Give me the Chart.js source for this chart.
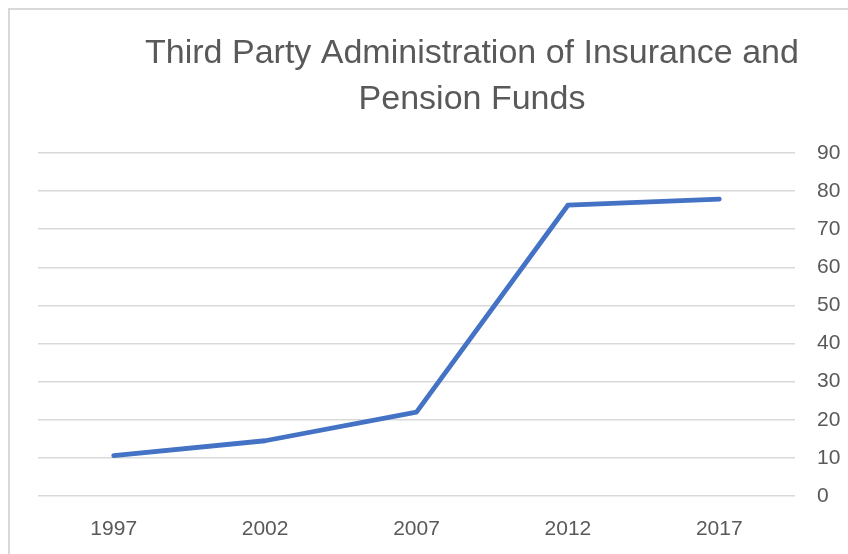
<!DOCTYPE html>
<html>
<head>
<meta charset="utf-8">
<script src="https://cdn.jsdelivr.net/npm/chart.js@4/dist/chart.umd.min.js"></script>
<style>
  html, body { margin: 0; padding: 0; background: #ffffff; }
  #chart { display: block; }
</style>
</head>
<body>
<canvas id="chart" width="848" height="554"></canvas>
<script>
// Share of insurance and pension funds handled by third-party administrators
const years = ['1997', '2002', '2007', '2012', '2017'];
const shareValues = [10.6, 14.5, 22.0, 76.3, 77.9];
const titleLines = ['Third Party Administration of Insurance and', 'Pension Funds'];

const FONT = "'Liberation Sans', Arial, sans-serif";
const TEXT_GRAY = '#595959';
const GRID_GRAY = '#d9d9d9';

// Light frame around the chart object, open at the right and bottom edges
const framePlugin = {
  id: 'frame',
  beforeDraw(chart) {
    const ctx = chart.ctx;
    ctx.save();
    ctx.strokeStyle = '#d9d9d9';
    ctx.lineWidth = 2;
    ctx.beginPath();
    ctx.moveTo(9, chart.height);
    ctx.lineTo(9, 9);
    ctx.lineTo(chart.width, 9);
    ctx.stroke();
    ctx.restore();
  }
};

// Centre the title over the plot region plus the value axis
const titleShift = {
  id: 'titleShift',
  afterLayout(chart) {
    const t = chart.titleBlock;
    if (t) {
      t.left += 29;
      t.right += 29;
    }
  }
};

new Chart(document.getElementById('chart'), {
  type: 'line',
  data: {
    labels: years,
    datasets: [{
      data: shareValues,
      borderColor: '#4472c4',
      borderWidth: 4.8,
      borderCapStyle: 'round',
      borderJoinStyle: 'round',
      pointRadius: 0,
      pointHoverRadius: 0,
      tension: 0,
      fill: false
    }]
  },
  options: {
    responsive: false,
    animation: false,
    layout: { padding: { left: 38, right: 0, top: 0, bottom: 0 } },
    plugins: {
      legend: { display: false },
      tooltip: { enabled: false },
      title: {
        display: true,
        text: titleLines,
        color: TEXT_GRAY,
        font: { family: FONT, size: 34, weight: 'normal', lineHeight: 1.353 },
        padding: { top: 31, bottom: 30 }
      }
    },
    scales: {
      x: {
        offset: true,
        grid: { display: false, drawTicks: false },
        border: { display: false },
        ticks: {
          color: TEXT_GRAY,
          font: { family: FONT, size: 21 },
          padding: 21,
          maxRotation: 0
        },
        afterFit(scale) { scale.height = 58; }
      },
      y: {
        position: 'right',
        min: 0,
        max: 90,
        grid: { color: GRID_GRAY, lineWidth: 1.5, drawTicks: false },
        border: { display: false },
        ticks: {
          stepSize: 10,
          color: TEXT_GRAY,
          font: { family: FONT, size: 21 },
          padding: 22
        },
        afterFit(scale) { scale.width = 53; }
      }
    }
  },
  plugins: [framePlugin, titleShift]
});
</script>
</body>
</html>
